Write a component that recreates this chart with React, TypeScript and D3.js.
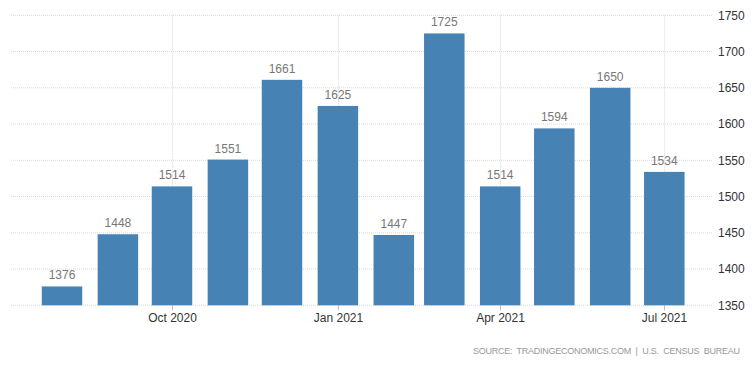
import React from "react";
import * as d3 from "d3";

const months = ["2020-08","2020-09","2020-10","2020-11","2020-12","2021-01","2021-02","2021-03","2021-04","2021-05","2021-06","2021-07"];
const values = [1376, 1448, 1514, 1551, 1661, 1625, 1447, 1725, 1514, 1594, 1650, 1534];
const yTicks = [1350, 1400, 1450, 1500, 1550, 1600, 1650, 1700, 1750];
const xTickDates = ["2020-10", "2021-01", "2021-04", "2021-07"];
const xTickLabels = ["Oct 2020", "Jan 2021", "Apr 2021", "Jul 2021"];
const sourceText = "SOURCE:  TRADINGECONOMICS.COM  |  U.S.  CENSUS  BUREAU";

const W = 756, H = 367;
const left = 11, right = 713, top = 15.3, bottom = 305.3;
const font = "'Liberation Sans', Arial, sans-serif";

export default function App() {
  const parse = d3.timeParse("%Y-%m");
  const d0 = parse("2020-10")!, d1 = parse("2021-07")!;
  const x = d3.scaleTime().domain([d0, d1]).range([172, 664.3]);
  const y = d3.scaleLinear().domain([1350, 1750]).range([bottom, top]);
  const bw = 40.5;
  return (
    <svg width={W} height={H} style={{ position: "absolute", left: 0, top: 0, background: "#fff" }}>
      {yTicks.map((t) => (
        <g key={t}>
          <line x1={left} x2={right} y1={y(t)} y2={y(t)} stroke="#dadada" strokeWidth={1} strokeDasharray="1,1" />
          <text x={718} y={y(t)} dy="0.35em" fontFamily={font} fontSize={12} fill="#333">{t}</text>
        </g>
      ))}
      {xTickDates.map((d, i) => {
        const xx = Math.round(x(parse(d)!)) + 0.5;
        return (
          <g key={d}>
            <line x1={xx} x2={xx} y1={top} y2={bottom} stroke="#dadada" strokeWidth={1} strokeDasharray="1,1" />
            <line x1={xx} x2={xx} y1={bottom} y2={bottom + 5} stroke="#c0c0c0" strokeWidth={1} />
            <text x={xx} y={322} textAnchor="middle" fontFamily={font} fontSize={12} fill="#333">{xTickLabels[i]}</text>
          </g>
        );
      })}
      {months.map((m, i) => {
        const cx = x(parse(m)!);
        const yt = y(values[i]);
        return (
          <g key={m}>
            <rect x={cx - bw / 2} y={yt} width={bw} height={bottom - yt} fill="#4682b4" />
            <text x={cx} y={yt - 7} textAnchor="middle" fontFamily={font} fontSize={12} fill="#777">{values[i]}</text>
          </g>
        );
      })}
      <text x={473} y={354} textLength={267} lengthAdjust="spacing" fontFamily={font} fontSize={9} fill="#999" style={{ whiteSpace: "pre" }}>{sourceText}</text>
    </svg>
  );
}
